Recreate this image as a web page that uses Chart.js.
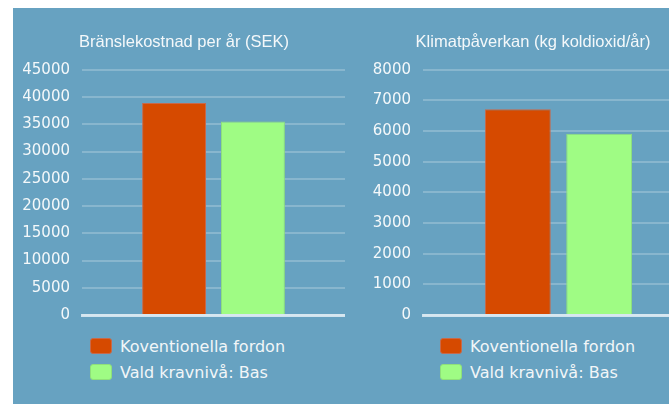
<!DOCTYPE html>
<html>
<head>
<meta charset="utf-8">
<script src="https://cdn.jsdelivr.net/npm/chart.js@4.4.1/dist/chart.umd.min.js"></script>
<style>
  html, body { margin: 0; padding: 0; background: #fff; overflow: hidden; }
  #wrap { position: absolute; left: 13px; top: 8px; width: 656px; height: 396px; background: #67a2c1; overflow: hidden; }
  .box { position: absolute; }
  .legend { position: absolute; font-family: "DejaVu Sans", sans-serif; font-size: 16px; color: #f2f6f8; }
  .legend div { position: relative; height: 26px; line-height: 17px; padding-left: 30px; white-space: nowrap; }
  .legend span { position: absolute; left: 0; top: 0; width: 20px; height: 14px; border-radius: 3px; border: 1px solid; }
</style>
</head>
<body>
<div id="wrap">
  <div class="box" style="left:10px;top:0;width:322px;height:328px;"><canvas id="fuel"></canvas></div>
  <div class="box" style="left:359px;top:0;width:322px;height:328px;"><canvas id="climate"></canvas></div>
  <div class="legend" id="legend-fuel" style="left:77px;top:330px;"></div>
  <div class="legend" id="legend-climate" style="left:427px;top:330px;"></div>
</div>
<script>
/* Fuel cost + climate impact, two small bar charts side by side */

var SERIES_LABELS = ['Koventionella fordon', 'Vald kravnivå: Bas'];
var SERIES_COLORS = ['#d64a00', '#9ffc84'];
var SERIES_BORDERS = ['#c8694a', '#8fe07a'];

var FUEL_TITLE = 'Bränslekostnad per år (SEK)';
var FUEL_VALUES = [38900, 35500];
var FUEL_MAX = 45000, FUEL_STEP = 5000;

var CLIMATE_TITLE = 'Klimatpåverkan (kg koldioxid/år)';
var CLIMATE_VALUES = [6710, 5910];
var CLIMATE_MAX = 8000, CLIMATE_STEP = 1000;

function makeChart(id, title, values, max, step, axisWidth) {
    var datasets = SERIES_LABELS.map(function(lbl, i) {
        return {
            label: lbl,
            data: [values[i]],
            backgroundColor: SERIES_COLORS[i],
            borderColor: SERIES_BORDERS[i],
            borderWidth: 1,
            barPercentage: 0.81,
            categoryPercentage: 0.6
        };
    });

    return new Chart(document.getElementById(id), {
        type: 'bar',
        data: { labels: [''], datasets: datasets },
        options: {
            responsive: true, maintainAspectRatio: false,
            animation: false,
            layout: { padding: 0 },
            plugins: {
                legend: { display: false },
                tooltip: { enabled: false },
                title: {
                    display: true,
                    text: title,
                    color: '#f4f8fa',
                    font: { family: 'Liberation Sans', size: 16.5, weight: 'normal' },
                    padding: { top: 25, bottom: 17 }
                }
            },
            scales: {
                x: {
                    grid: { display: false },
                    ticks: { display: false },
                    border: { display: true, color: 'rgba(235,244,249,0.8)', width: 3 },
                    afterFit: function(s) { s.height = 2; }
                },
                y: {
                    min: 0, max: max,
                    ticks: {
                        stepSize: step,
                        color: '#f4f8fa',
                        padding: 12,
                        font: { family: 'DejaVu Sans', size: 15 },
                        callback: function(v) { return String(v); }
                    },
                    grid: { color: 'rgba(255,255,255,0.22)', lineWidth: 2, drawTicks: false },
                    border: { display: false },
                    afterFit: function(s) { s.width = axisWidth; }
                }
            }
        }
    });
}

function renderLegend(id) {
    var el = document.getElementById(id);
    el.innerHTML = SERIES_LABELS.map(function(lbl, i) {
        return '<div><span style="background:' + SERIES_COLORS[i] + ';border-color:' + SERIES_BORDERS[i] + ';"></span>' + lbl + '</div>';
    }).join('');
}

makeChart('fuel', FUEL_TITLE, FUEL_VALUES, FUEL_MAX, FUEL_STEP, 59);
makeChart('climate', CLIMATE_TITLE, CLIMATE_VALUES, CLIMATE_MAX, CLIMATE_STEP, 51);
renderLegend('legend-fuel');
renderLegend('legend-climate');
</script>
</body>
</html>
